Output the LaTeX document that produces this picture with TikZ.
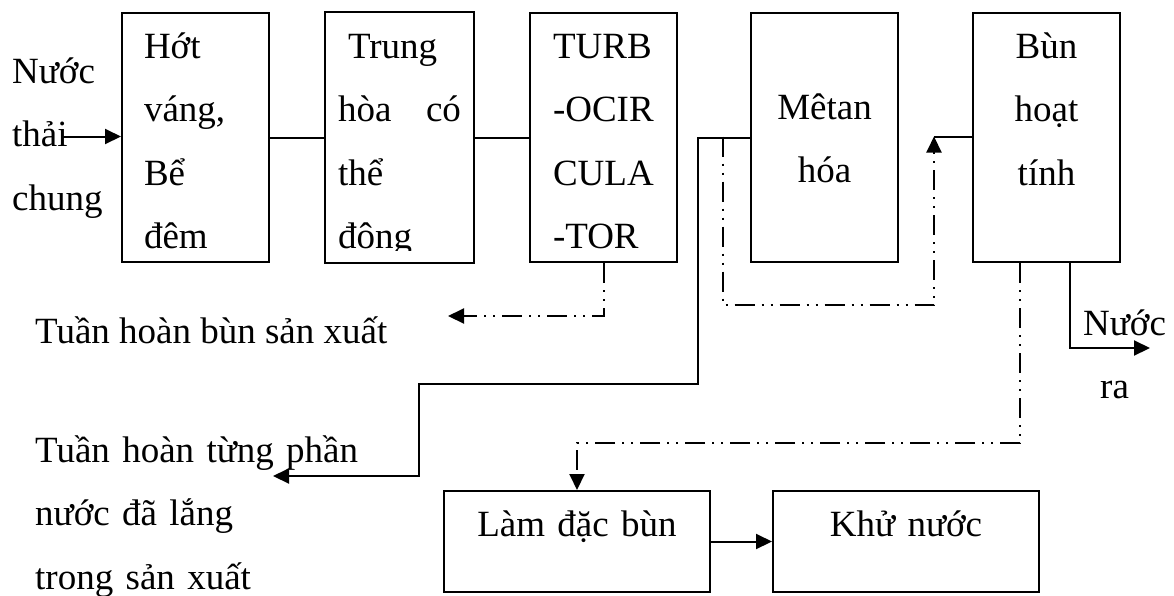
\documentclass[tikz,border=0pt]{standalone}
\usepackage{fontspec}
\setmainfont{Liberation Serif}
\usetikzlibrary{arrows.meta}

\begin{document}
\begin{tikzpicture}[x=1pt,y=-1pt,
	every node/.style={inner sep=0pt,font=\fontsize{37}{63.5}\selectfont},
	tall/.style={draw,line width=2pt,anchor=north west,inner xsep=#1,
		text width={147pt-2*#1},text height=45pt,text depth=204pt},
	flat/.style={draw,line width=2pt,anchor=north west,text width=266pt,
		align=center,text height=45pt,text depth=56pt},
	flow/.style={line width=2pt,-{Triangle[length=16pt,width=15pt]}},
	sludge/.style={flow,dash pattern=on 20pt off 7pt on 2pt off 7pt on 2pt off 7pt}]
	\useasboundingbox (0,0) rectangle (1174,595);

	\node[anchor=base west,text width=100pt,align=left] (nuocthai) at (12,83) {Nước\\thải\\chung};
	\node[tall=22pt,align=left] (hot) at (121,12) {Hớt\\váng,\\Bể\\đêm};
	\begin{scope}
		\clip (320,5) rectangle (480,250);
		\node[tall=12pt,align=left,draw=none] (trung) at (325,12) {\hspace*{10pt}Trung\\hòa\hfill có\hspace*{10pt}\\thể\\đông};
	\end{scope}
	\draw[line width=2pt] (trung.north west) rectangle (trung.south east);
	\node[tall=23pt,align=left] (turb) at (529,12) {TURB\\-OCIR\\CULA\\-TOR};
	\node[tall=0pt,align=center,text height=106pt,text depth=143pt] (metan) at (750,12) {Mêtan\\hóa};
	\node[tall=0pt,align=center] (bun) at (972,12) {Bùn\\hoạt\\tính};
	\node[flat] (lamdac) at (443,490) {Làm đặc bùn};
	\node[flat] (khu) at (772,490) {Khử nước};

	\node[anchor=base west] (bunsx) at (35,343) {Tuần hoàn bùn sản xuất};
	\node[anchor=base west,text width=340pt,align=left] (tungphan) at (35,462) {Tuần hoàn từng phần\\nước đã lắng\\trong sản xuất};
	\node[anchor=base west,text width=90pt,align=left] (nuocra) at (1083,335) {Nước\\\hspace*{17pt}ra};

	\coordinate (vao) at (63,136.5);
	\coordinate (bunve) at (448,316);
	\coordinate (gap1) at (698,384);
	\coordinate (gap2) at (419,476);
	\coordinate (nuocve) at (273,476);
	\coordinate (nhanh) at (723,136.5);
	\coordinate (vong) at (934,305);
	\coordinate (hoi) at (934,136.5);
	\coordinate (xa) at (1020,443);
	\coordinate (goc) at (1070,348);
	\coordinate (ra) at (1150,348);

	\draw[flow] (vao) -- (vao -| hot.west);
	\draw[line width=2pt] (hot) -- (trung);
	\draw[line width=2pt] (trung) -- (turb);
	\draw[sludge] (turb.south) |- (bunve);
	\draw[flow] (metan.west) -| (gap1) -| (gap2) -- (nuocve);
	\draw[sludge] (nhanh) |- (vong) -- (hoi);
	\draw[line width=2pt] (hoi) -- (hoi -| bun.west);
	\draw[sludge] (xa |- bun.south) -- (xa) -| (lamdac.north);
	\draw[flow] (goc |- bun.south) -- (goc) -- (ra);
	\draw[flow] (lamdac) -- (khu);
\end{tikzpicture}
\end{document}
